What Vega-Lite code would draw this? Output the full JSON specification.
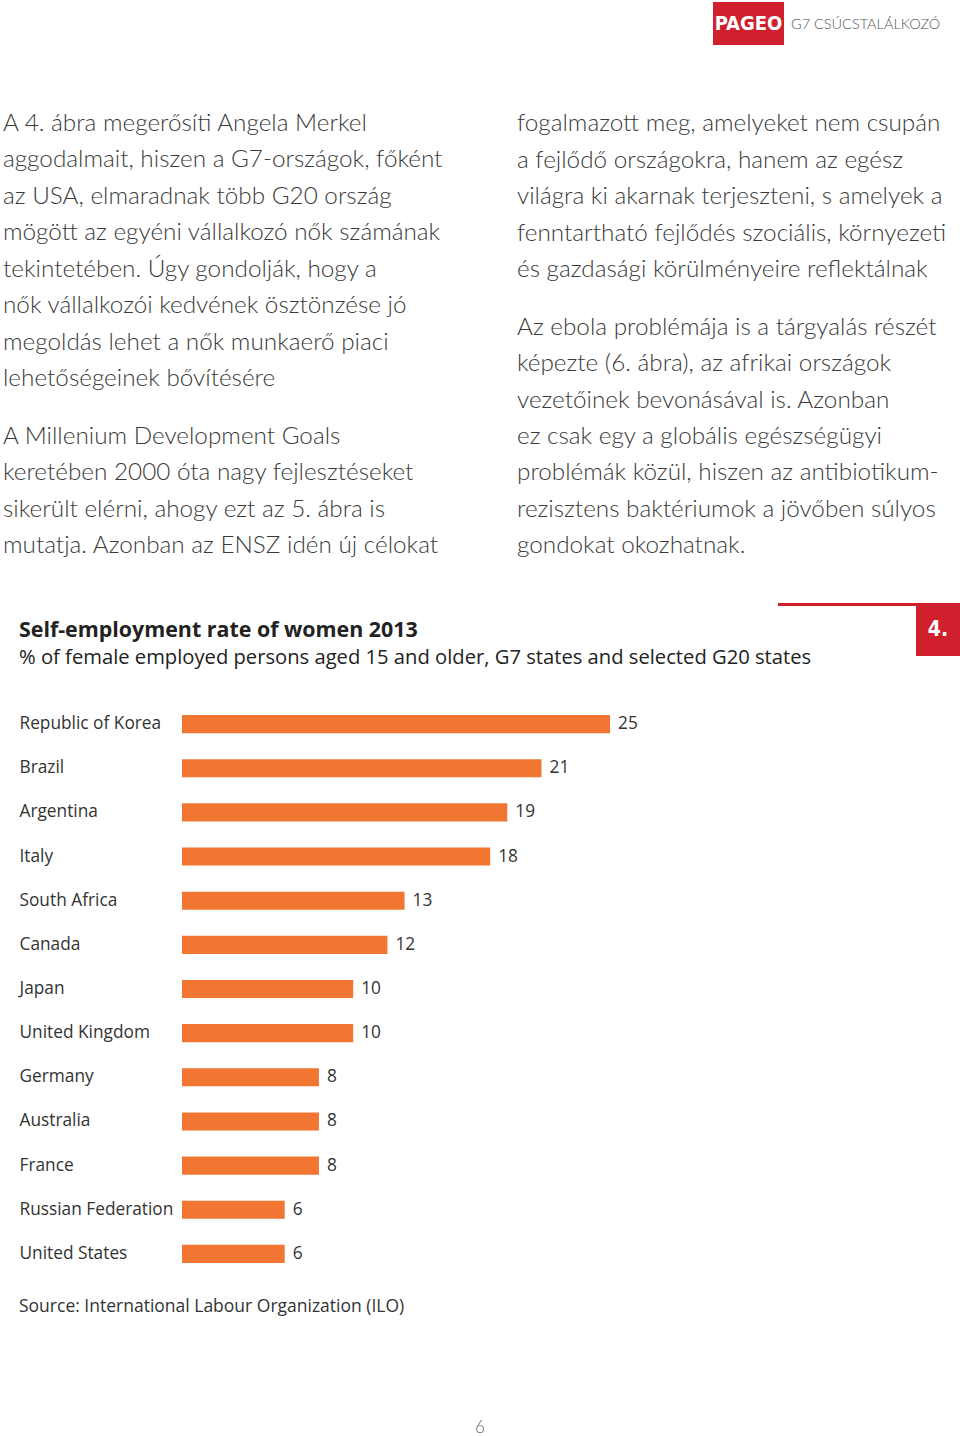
{
  "$schema": "https://vega.github.io/schema/vega-lite/v6.json",
  "width": 960,
  "height": 1436,
  "padding": 0,
  "autosize": {"type": "none"},
  "background": "white",
  "config": {"view": {"stroke": null}},
  "datasets": {
    "header": [{"brand": "PAGEO", "section": "G7 CSÚCSTALÁLKOZÓ"}],
    "paragraphs": [
      {"col": "left", "para": 1, "line": 1, "text": "A 4. ábra megerősíti Angela Merkel"},
      {"col": "left", "para": 1, "line": 2, "text": "aggodalmait, hiszen a G7-országok, főként"},
      {"col": "left", "para": 1, "line": 3, "text": "az USA, elmaradnak több G20 ország"},
      {"col": "left", "para": 1, "line": 4, "text": "mögött az egyéni vállalkozó nők számának"},
      {"col": "left", "para": 1, "line": 5, "text": "tekintetében. Úgy gondolják, hogy a"},
      {"col": "left", "para": 1, "line": 6, "text": "nők vállalkozói kedvének ösztönzése jó"},
      {"col": "left", "para": 1, "line": 7, "text": "megoldás lehet a nők munkaerő piaci"},
      {"col": "left", "para": 1, "line": 8, "text": "lehetőségeinek bővítésére"},
      {"col": "left", "para": 2, "line": 9, "text": "A Millenium Development Goals"},
      {"col": "left", "para": 2, "line": 10, "text": "keretében 2000 óta nagy fejlesztéseket"},
      {"col": "left", "para": 2, "line": 11, "text": "sikerült elérni, ahogy ezt az 5. ábra is"},
      {"col": "left", "para": 2, "line": 12, "text": "mutatja. Azonban az ENSZ idén új célokat"},
      {"col": "right", "para": 3, "line": 1, "text": "fogalmazott meg, amelyeket nem csupán"},
      {"col": "right", "para": 3, "line": 2, "text": "a fejlődő országokra, hanem az egész"},
      {"col": "right", "para": 3, "line": 3, "text": "világra ki akarnak terjeszteni, s amelyek a"},
      {"col": "right", "para": 3, "line": 4, "text": "fenntartható fejlődés szociális, környezeti"},
      {"col": "right", "para": 3, "line": 5, "text": "és gazdasági körülményeire reflektálnak"},
      {"col": "right", "para": 4, "line": 6, "text": "Az ebola problémája is a tárgyalás részét"},
      {"col": "right", "para": 4, "line": 7, "text": "képezte (6. ábra), az afrikai országok"},
      {"col": "right", "para": 4, "line": 8, "text": "vezetőinek bevonásával is. Azonban"},
      {"col": "right", "para": 4, "line": 9, "text": "ez csak egy a globális egészségügyi"},
      {"col": "right", "para": 4, "line": 10, "text": "problémák közül, hiszen az antibiotikum-"},
      {"col": "right", "para": 4, "line": 11, "text": "rezisztens baktériumok a jövőben súlyos"},
      {"col": "right", "para": 4, "line": 12, "text": "gondokat okozhatnak."}
    ],
    "figure": [{
      "figure": "4.",
      "title": "Self-employment rate of women 2013",
      "subtitle": "% of female employed persons aged 15 and older, G7 states and selected G20 states",
      "source": "Source: International Labour Organization (ILO)",
      "page": "6"
    }],
    "rates": [
      {"country": "Republic of Korea", "value": 25},
      {"country": "Brazil", "value": 21},
      {"country": "Argentina", "value": 19},
      {"country": "Italy", "value": 18},
      {"country": "South Africa", "value": 13},
      {"country": "Canada", "value": 12},
      {"country": "Japan", "value": 10},
      {"country": "United Kingdom", "value": 10},
      {"country": "Germany", "value": 8},
      {"country": "Australia", "value": 8},
      {"country": "France", "value": 8},
      {"country": "Russian Federation", "value": 6},
      {"country": "United States", "value": 6}
    ]
  },
  "resolve": {
    "scale": {"x": "independent", "y": "independent"},
    "axis": {"x": "independent", "y": "independent"}
  },
  "layer": [
    {
      "data": {"name": "header"},
      "mark": {"type": "rect", "color": "#d0202e"},
      "encoding": {
        "x": {"field": "brand", "type": "nominal", "axis": null, "scale": {"type": "band", "range": [713, 784], "paddingInner": 0, "paddingOuter": 0}},
        "y": {"field": "brand", "type": "nominal", "axis": null, "scale": {"type": "band", "range": [2, 45], "paddingInner": 0, "paddingOuter": 0}}
      }
    },
    {
      "data": {"name": "header"},
      "mark": {"type": "text", "font": "DejaVu Sans Condensed, Roboto, sans-serif", "fontWeight": "bold", "fontSize": 20, "color": "white", "baseline": "middle", "align": "center"},
      "encoding": {
        "x": {"field": "brand", "type": "nominal", "axis": null, "scale": {"type": "band", "range": [713, 784], "paddingInner": 0, "paddingOuter": 0}},
        "y": {"field": "brand", "type": "nominal", "axis": null, "scale": {"type": "band", "range": [2, 45], "paddingInner": 0, "paddingOuter": 0}},
        "text": {"field": "brand"}
      }
    },
    {
      "data": {"name": "header"},
      "mark": {"type": "text", "font": "Lato", "fontWeight": 300, "fontSize": 14.5, "color": "#555555", "baseline": "middle", "align": "left"},
      "encoding": {
        "x": {"field": "section", "type": "nominal", "axis": null, "scale": {"type": "point", "range": [791, 791]}},
        "y": {"field": "section", "type": "nominal", "axis": null, "scale": {"type": "point", "range": [25, 25]}},
        "text": {"field": "section"}
      }
    },
    {
      "data": {"name": "paragraphs"},
      "transform": [{"filter": "datum.para == 1"}],
      "mark": {"type": "text", "font": "Lato", "fontWeight": 300, "fontSize": 24.3, "color": "#3a3a3a", "baseline": "alphabetic", "align": "left"},
      "encoding": {
        "x": {"field": "col", "type": "nominal", "axis": null, "scale": {"type": "point", "domain": ["left", "right"], "range": [3, 517], "padding": 0}},
        "y": {"field": "line", "type": "quantitative", "axis": null, "scale": {"domain": [1, 8], "range": [131, 386], "nice": false, "zero": false}},
        "text": {"field": "text"}
      }
    },
    {
      "data": {"name": "paragraphs"},
      "transform": [{"filter": "datum.para == 2"}],
      "mark": {"type": "text", "font": "Lato", "fontWeight": 300, "fontSize": 24.3, "color": "#3a3a3a", "baseline": "alphabetic", "align": "left"},
      "encoding": {
        "x": {"field": "col", "type": "nominal", "axis": null, "scale": {"type": "point", "domain": ["left", "right"], "range": [3, 517], "padding": 0}},
        "y": {"field": "line", "type": "quantitative", "axis": null, "scale": {"domain": [9, 12], "range": [444, 553], "nice": false, "zero": false}},
        "text": {"field": "text"}
      }
    },
    {
      "data": {"name": "paragraphs"},
      "transform": [{"filter": "datum.para == 3"}],
      "mark": {"type": "text", "font": "Lato", "fontWeight": 300, "fontSize": 24.3, "color": "#3a3a3a", "baseline": "alphabetic", "align": "left"},
      "encoding": {
        "x": {"field": "col", "type": "nominal", "axis": null, "scale": {"type": "point", "domain": ["left", "right"], "range": [3, 517], "padding": 0}},
        "y": {"field": "line", "type": "quantitative", "axis": null, "scale": {"domain": [1, 5], "range": [131, 277], "nice": false, "zero": false}},
        "text": {"field": "text"}
      }
    },
    {
      "data": {"name": "paragraphs"},
      "transform": [{"filter": "datum.para == 4"}],
      "mark": {"type": "text", "font": "Lato", "fontWeight": 300, "fontSize": 24.3, "color": "#3a3a3a", "baseline": "alphabetic", "align": "left"},
      "encoding": {
        "x": {"field": "col", "type": "nominal", "axis": null, "scale": {"type": "point", "domain": ["left", "right"], "range": [3, 517], "padding": 0}},
        "y": {"field": "line", "type": "quantitative", "axis": null, "scale": {"domain": [6, 12], "range": [335, 553], "nice": false, "zero": false}},
        "text": {"field": "text"}
      }
    },
    {
      "data": {"name": "figure"},
      "mark": {"type": "text", "font": "Open Sans", "fontWeight": "bold", "fontSize": 21.4, "color": "#222222", "baseline": "alphabetic", "align": "left"},
      "encoding": {
        "x": {"field": "title", "type": "nominal", "axis": null, "scale": {"type": "point", "range": [19, 19]}},
        "y": {"field": "title", "type": "nominal", "axis": null, "scale": {"type": "point", "range": [637, 637]}},
        "text": {"field": "title"}
      }
    },
    {
      "data": {"name": "figure"},
      "mark": {"type": "text", "font": "Open Sans", "fontSize": 20.2, "color": "#222222", "baseline": "alphabetic", "align": "left"},
      "encoding": {
        "x": {"field": "subtitle", "type": "nominal", "axis": null, "scale": {"type": "point", "range": [19, 19]}},
        "y": {"field": "subtitle", "type": "nominal", "axis": null, "scale": {"type": "point", "range": [664, 664]}},
        "text": {"field": "subtitle"}
      }
    },
    {
      "data": {"name": "figure"},
      "mark": {"type": "rect", "color": "#d0202e"},
      "encoding": {
        "x": {"field": "figure", "type": "nominal", "axis": null, "scale": {"type": "band", "range": [778, 960], "paddingInner": 0, "paddingOuter": 0}},
        "y": {"field": "figure", "type": "nominal", "axis": null, "scale": {"type": "band", "range": [603, 606], "paddingInner": 0, "paddingOuter": 0}}
      }
    },
    {
      "data": {"name": "figure"},
      "mark": {"type": "rect", "color": "#d0202e"},
      "encoding": {
        "x": {"field": "figure", "type": "nominal", "axis": null, "scale": {"type": "band", "range": [916, 960], "paddingInner": 0, "paddingOuter": 0}},
        "y": {"field": "figure", "type": "nominal", "axis": null, "scale": {"type": "band", "range": [604, 656], "paddingInner": 0, "paddingOuter": 0}}
      }
    },
    {
      "data": {"name": "figure"},
      "mark": {"type": "text", "font": "DejaVu Sans Condensed, Roboto, sans-serif", "fontWeight": "bold", "fontSize": 21, "color": "white", "baseline": "middle", "align": "center"},
      "encoding": {
        "x": {"field": "figure", "type": "nominal", "axis": null, "scale": {"type": "band", "range": [916, 960], "paddingInner": 0, "paddingOuter": 0}},
        "y": {"field": "figure", "type": "nominal", "axis": null, "scale": {"type": "band", "range": [604, 656], "paddingInner": 0, "paddingOuter": 0}},
        "text": {"field": "figure"}
      }
    },
    {
      "data": {"name": "rates"},
      "mark": {"type": "bar", "color": "#f07632"},
      "encoding": {
        "x": {"field": "value", "type": "quantitative", "axis": null, "scale": {"domain": [0, 25], "range": [182, 610], "nice": false, "zero": true}},
        "y": {
          "field": "country", "type": "nominal", "sort": null,
          "scale": {"type": "band", "range": [702, 1276], "paddingInner": 0.59, "paddingOuter": 0.295},
          "axis": {
            "orient": "left", "offset": -182, "title": null, "domain": false, "ticks": false, "tickSize": 0,
            "labelAlign": "left", "labelPadding": 163, "labelFont": "Open Sans", "labelFontSize": 17.3,
            "labelColor": "#333333", "labelLimit": 0, "grid": false
          }
        }
      }
    },
    {
      "data": {"name": "rates"},
      "mark": {"type": "text", "font": "Open Sans", "fontSize": 17.3, "color": "#333333", "baseline": "middle", "align": "left", "dx": 8},
      "encoding": {
        "x": {"field": "value", "type": "quantitative", "axis": null, "scale": {"domain": [0, 25], "range": [182, 610], "nice": false, "zero": true}},
        "y": {"field": "country", "type": "nominal", "sort": null, "axis": null, "scale": {"type": "band", "range": [702, 1276], "paddingInner": 0.59, "paddingOuter": 0.295}},
        "text": {"field": "value", "type": "quantitative"}
      }
    },
    {
      "data": {"name": "figure"},
      "mark": {"type": "text", "font": "Open Sans", "fontSize": 17.5, "color": "#333333", "baseline": "middle", "align": "left"},
      "encoding": {
        "x": {"field": "source", "type": "nominal", "axis": null, "scale": {"type": "point", "range": [19, 19]}},
        "y": {"field": "source", "type": "nominal", "axis": null, "scale": {"type": "point", "range": [1307, 1307]}},
        "text": {"field": "source"}
      }
    },
    {
      "data": {"name": "figure"},
      "mark": {"type": "text", "font": "Lato", "fontWeight": 300, "fontSize": 17, "color": "#666666", "baseline": "middle", "align": "center"},
      "encoding": {
        "x": {"field": "page", "type": "nominal", "axis": null, "scale": {"type": "point", "range": [480, 480]}},
        "y": {"field": "page", "type": "nominal", "axis": null, "scale": {"type": "point", "range": [1428, 1428]}},
        "text": {"field": "page"}
      }
    }
  ]
}
